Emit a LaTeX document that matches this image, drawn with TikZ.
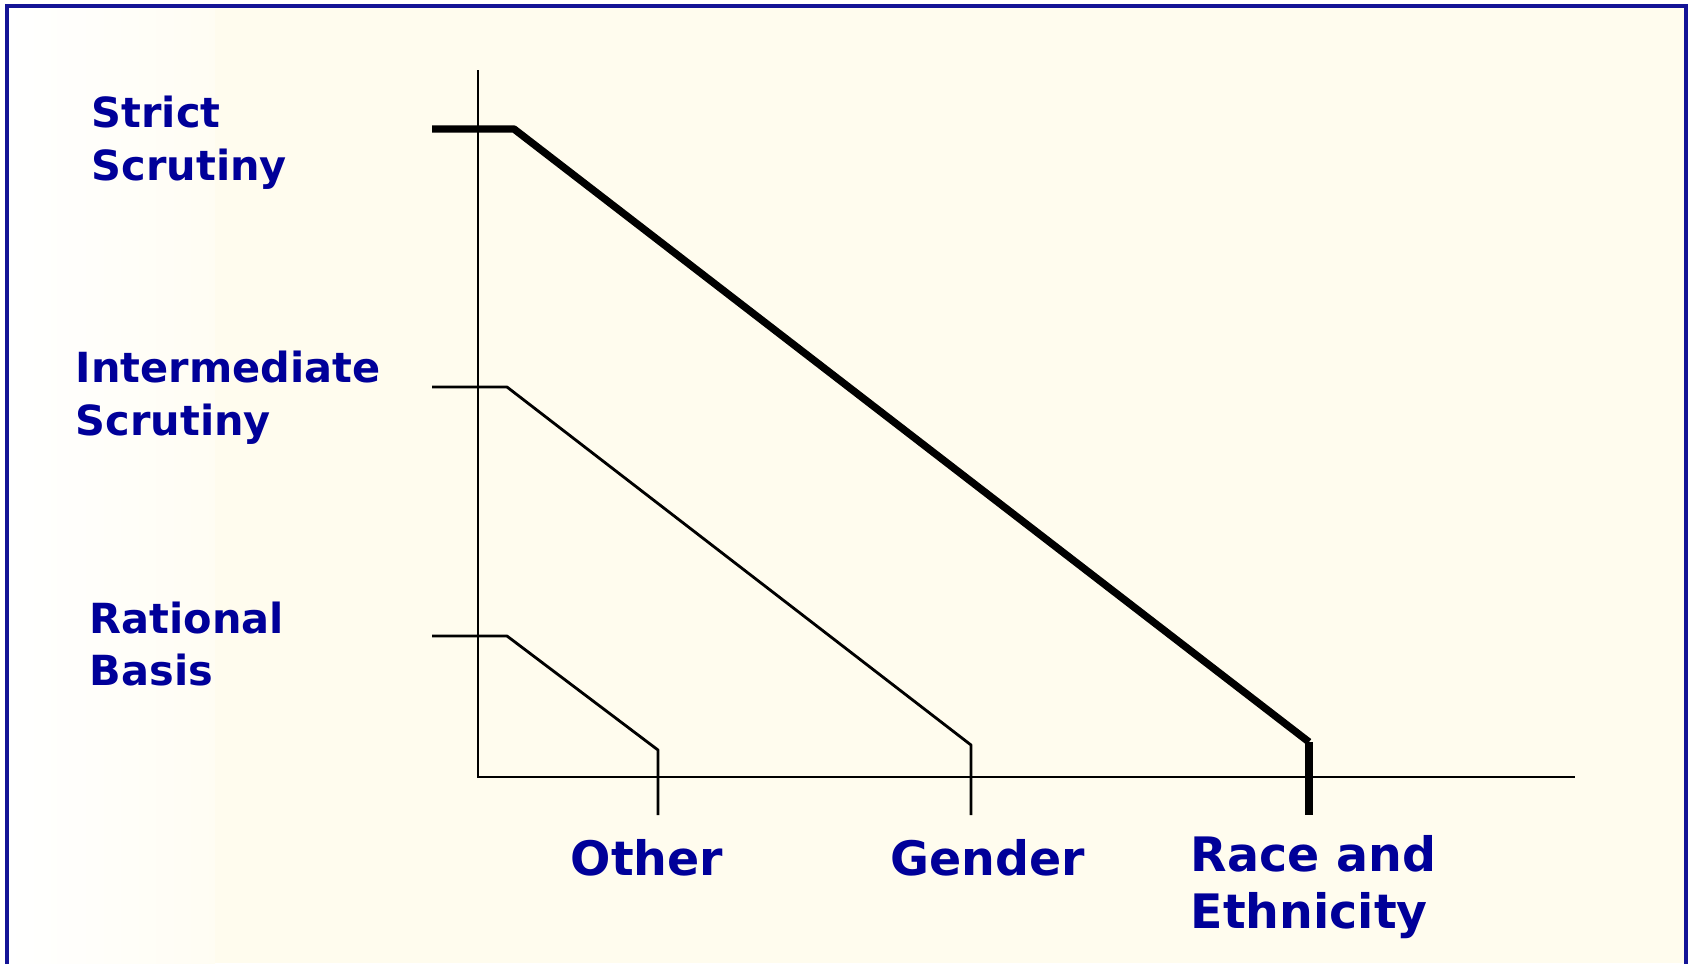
\documentclass[tikz,border=0pt]{standalone}
\usepackage{fontspec}
\setmainfont{DejaVu Sans}
\usepackage{xcolor}
\usetikzlibrary{positioning}
\definecolor{labelblue}{RGB}{0,0,153}
\definecolor{cream}{RGB}{255,252,238}
\definecolor{framenavy}{RGB}{20,20,150}

\begin{document}
\begin{tikzpicture}[x=0.01cm, y=-0.01cm,
  lvllabel/.style={font=\bfseries\fontsize{11.8}{15}\selectfont, text=labelblue,
    align=left, inner sep=0pt, anchor=west},
  catlabel/.style={font=\bfseries\fontsize{13.5}{16.3}\selectfont, text=labelblue,
    align=left, inner sep=0pt},
  axis/.style={line width=0.8pt, black},
  thinlvl/.style={line width=0.8pt, black, line join=round},
  thicklvl/.style={line width=2.1pt, black, line join=round},
]
\useasboundingbox (0,0) rectangle (1692,963);
% ====== SLIDE BACKGROUND ======
\fill[white] (0,0) rectangle (1692,963);
\fill[cream] (7,6) rectangle (1686,963);
\shade[left color=white, right color=cream!70!white] (7,6) rectangle (215,963);
\draw[framenavy, line width=1pt] (7,980) -- (7,6) -- (1686,6) -- (1686,980);
%
% ====== AXES ======
\coordinate (ax_top) at (478,70);
\coordinate (ax_o) at (478,777);
\coordinate (ax_end) at (1575,777);
\draw[axis] (ax_top) -- (ax_o) -- (ax_end);
%
% ====== SCRUTINY LEVELS ======
\coordinate (ss_tick) at (432,129);
\coordinate (ss_knee) at (514,129);
\coordinate (ss_foot) at (1309,742);
\coordinate (ss_drop) at (1309,815);
\draw[thicklvl] (ss_tick) -- (ss_knee) -- (ss_foot);
\draw[line width=2.4pt] (ss_foot) -- (ss_drop);
%
\coordinate (is_tick) at (432,387);
\coordinate (is_knee) at (507,387);
\coordinate (is_foot) at (971,745);
\coordinate (is_drop) at (971,815);
\draw[thinlvl] (is_tick) -- (is_knee) -- (is_foot) -- (is_drop);
%
\coordinate (rb_tick) at (432,636);
\coordinate (rb_knee) at (507,636);
\coordinate (rb_foot) at (658,750);
\coordinate (rb_drop) at (658,815);
\draw[thinlvl] (rb_tick) -- (rb_knee) -- (rb_foot) -- (rb_drop);
%
% ====== LABELS ======
\node[lvllabel] (lbl_strict) at (91,143) {Strict\\Scrutiny};
\node[lvllabel] (lbl_inter) at (75,398) {Intermediate\\Scrutiny};
\node[lvllabel] (lbl_rational) at (89,644) {Rational\\Basis};
\node[catlabel] (lbl_other) at (647,858) {Other};
\node[catlabel] (lbl_gender) at (988,858) {Gender};
\node[catlabel, anchor=west] (lbl_race) at (1190,887) {Race and\\Ethnicity};
\end{tikzpicture}
\end{document}
